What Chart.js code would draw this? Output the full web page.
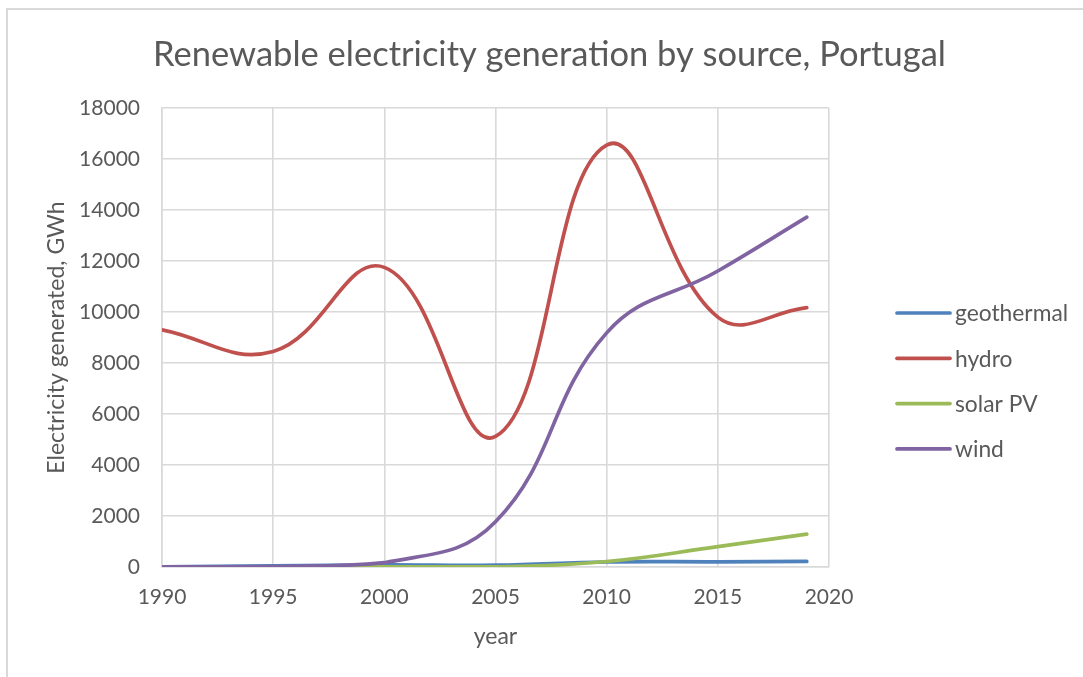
<!DOCTYPE html>
<html>
<head>
<meta charset="utf-8">
<title>Renewable electricity generation by source, Portugal</title>
<script src="https://cdn.jsdelivr.net/npm/chart.js@4.4.1/dist/chart.umd.min.js"></script>
<style>
  html, body { margin: 0; padding: 0; background: #ffffff; }
  #wrap { position: relative; width: 1083px; height: 677px; overflow: hidden; }
  canvas { display: block; }
</style>
</head>
<body>
<div id="wrap"><canvas id="chart" width="1083" height="677"></canvas></div>
<script>
// Annual generation (GWh) sampled every five years, plus the latest year
const years = [1990, 1995, 2000, 2005, 2010, 2015, 2019];
const geothermal = [3, 47, 80, 71, 197, 204, 220];
const hydro = [9302, 8453, 11750, 5118, 16547, 9800, 10170];
const solarPV = [0, 0, 1, 3, 215, 799, 1290];
const wind = [1, 16, 168, 1773, 9182, 11608, 13720];

const seriesNames = ['geothermal', 'hydro', 'solar PV', 'wind'];
const seriesColors = ['#4F81BD', '#C0504D', '#9BBB59', '#8064A2'];
const seriesValues = [geothermal, hydro, solarPV, wind];

const xTicks = [1990, 1995, 2000, 2005, 2010, 2015, 2020];
const yMax = 18000;
const yStep = 2000;

const titleText = 'Renewable electricity generation by source, Portugal';
const xTitle = 'year';
const yTitle = 'Electricity generated, GWh';

const FONT = 'Lato, "Open Sans", sans-serif';
const TEXT = '#595959';
const GRID = '#d9d9d9';

const datasets = seriesNames.map((name, i) => ({
  label: name,
  data: years.map((yr, k) => ({ x: yr, y: seriesValues[i][k] })),
  borderColor: seriesColors[i],
  backgroundColor: seriesColors[i],
  borderWidth: 3.7,
  borderCapStyle: 'round',
  pointRadius: 0,
  pointHoverRadius: 0,
  tension: 0.42,
  fill: false,
  order: seriesNames.length - i
}));

// Frame, title and legend drawn around the plot
const decorations = {
  id: 'decorations',
  beforeDraw(chart) {
    const ctx = chart.ctx;
    ctx.save();
    ctx.fillStyle = '#ffffff';
    ctx.fillRect(0, 0, chart.width, chart.height);
    ctx.strokeStyle = '#d9d9d9';
    ctx.lineWidth = 2;
    ctx.beginPath();
    ctx.moveTo(7, chart.height + 5);
    ctx.lineTo(7, 9);
    ctx.lineTo(chart.width + 5, 9);
    ctx.stroke();
    ctx.restore();
  },
  afterDraw(chart) {
    const ctx = chart.ctx;
    ctx.save();
    ctx.fillStyle = TEXT;
    ctx.font = '34.5px ' + FONT;
    ctx.textAlign = 'center';
    ctx.textBaseline = 'alphabetic';
    ctx.fillText(titleText, 549.5, 65.5);

    const x0 = 897, x1 = 950, textX = 955, top = 313, gap = 45.3;
    ctx.font = '22.8px ' + FONT;
    ctx.textAlign = 'left';
    ctx.textBaseline = 'middle';
    chart.data.datasets.forEach((ds, i) => {
      const y = top + i * gap;
      ctx.strokeStyle = ds.borderColor;
      ctx.lineWidth = 3.7;
      ctx.lineCap = 'round';
      ctx.beginPath();
      ctx.moveTo(x0, y);
      ctx.lineTo(x1, y);
      ctx.stroke();
      ctx.fillStyle = TEXT;
      ctx.fillText(ds.label, textX, y + 1);
    });
    ctx.restore();
  }
};

new Chart(document.getElementById('chart'), {
  type: 'line',
  data: { datasets },
  plugins: [decorations],
  options: {
    responsive: false,
    animation: false,
    events: [],
    layout: { padding: { left: 0, right: 254, top: 108, bottom: 0 } },
    plugins: {
      legend: { display: false },
      title: { display: false },
      tooltip: { enabled: false }
    },
    scales: {
      x: {
        type: 'linear',
        min: xTicks[0],
        max: xTicks[xTicks.length - 1],
        afterFit(scale) { scale.height = 110; },
        afterBuildTicks(scale) { scale.ticks = xTicks.map(v => ({ value: v })); },
        ticks: {
          padding: 18,
          color: TEXT,
          font: { family: FONT, size: 21 },
          maxRotation: 0,
          callback: v => String(v)
        },
        grid: { color: GRID, lineWidth: 1.6, drawTicks: false },
        border: { color: GRID, width: 1.6 },
        title: {
          display: true,
          text: xTitle,
          color: TEXT,
          font: { family: FONT, size: 23 },
          padding: { top: 0, bottom: 27 }
        }
      },
      y: {
        type: 'linear',
        min: 0,
        max: yMax,
        afterFit(scale) { scale.width = 162; },
        ticks: {
          stepSize: yStep,
          padding: 22,
          color: TEXT,
          font: { family: FONT, size: 21 },
          callback: v => String(v)
        },
        grid: { color: GRID, lineWidth: 1.6, drawTicks: false },
        border: { color: GRID, width: 1.6 },
        title: {
          display: true,
          text: yTitle,
          color: TEXT,
          font: { family: FONT, size: 23 },
          padding: { top: 43, bottom: 0 }
        }
      }
    }
  }
});
</script>
</body>
</html>
